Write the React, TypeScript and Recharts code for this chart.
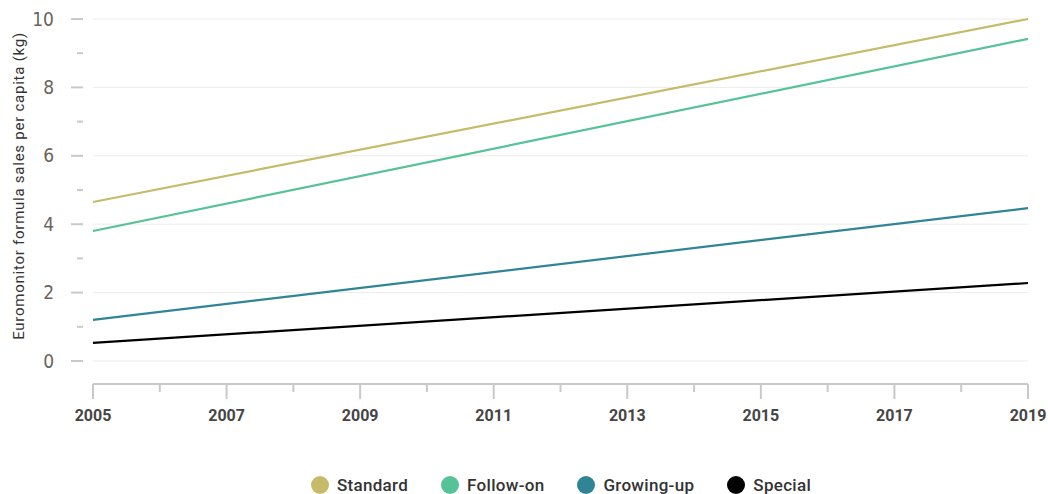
import React from "react";
import {
  LineChart,
  Line,
  XAxis,
  YAxis,
  CartesianGrid,
  Legend,
} from "recharts";

// trend endpoints (kg per capita)
const YEARS = [2005, 2019];
const STANDARD = [4.65, 10.0];
const FOLLOW_ON = [3.8, 9.42];
const GROWING_UP = [1.2, 4.47];
const SPECIAL = [0.53, 2.28];

const X_TICKS = [2005, 2006, 2007, 2008, 2009, 2010, 2011, 2012, 2013, 2014, 2015, 2016, 2017, 2018, 2019];
const Y_TICKS = [0, 1, 2, 3, 4, 5, 6, 7, 8, 9, 10];
const Y_GRID = [0, 2, 4, 6, 8, 10];

const SERIES = [
  { key: "standard", name: "Standard", color: "#c5bb69", values: STANDARD },
  { key: "followOn", name: "Follow-on", color: "#55c297", values: FOLLOW_ON },
  { key: "growingUp", name: "Growing-up", color: "#2f8596", values: GROWING_UP },
  { key: "special", name: "Special", color: "#000000", values: SPECIAL },
];

const data = YEARS.map((year, i) => {
  const row: any = { year };
  SERIES.forEach((s) => (row[s.key] = s.values[i]));
  return row;
});

const AXIS_GREY = "#c9c9c9";
const FONT = "Roboto, 'Liberation Sans', sans-serif";
const NARROW = "'Liberation Sans Narrow', 'DejaVu Sans Condensed', Roboto, sans-serif";

const XTick = ({ x, y, payload }: any) => {
  const major = payload.value % 2 === 1;
  return (
    <g>
      <line x1={x} x2={x} y1={y} y2={y + (major ? 15 : 8)} stroke={AXIS_GREY} strokeWidth={2} />
      {major && (
        <text x={x} y={y + 37} textAnchor="middle" fill="#454545" fontFamily={FONT} fontWeight={700} fontSize={16}>
          {payload.value}
        </text>
      )}
    </g>
  );
};

const YTick = ({ x, y, payload }: any) => {
  const major = payload.value % 2 === 0;
  return (
    <g>
      <line x1={x - (major ? 22 : 16)} x2={x - 10} y1={y} y2={y} stroke={AXIS_GREY} strokeWidth={2} />
      {major && (
        <text x={x - 39} y={y + 6.5} textAnchor="end" fill="#6a6460" fontFamily={NARROW} fontSize={19}>
          {payload.value}
        </text>
      )}
    </g>
  );
};

const YTitle = ({ viewBox }: any) => {
  const cx = viewBox.x + 19;
  const cy = 186;
  return (
    <text
      x={cx}
      y={cy}
      transform={`rotate(-90, ${cx}, ${cy})`}
      textAnchor="middle"
      dominantBaseline="central"
      fill="#333"
      fontFamily={FONT}
      fontSize={15}
      letterSpacing={0.75}
    >
      Euromonitor formula sales per capita (kg)
    </text>
  );
};

const LegendContent = () => (
  <div style={{ display: "flex", justifyContent: "center", alignItems: "center", gap: 33, height: 18, paddingLeft: 94 }}>
    {SERIES.map((s) => (
      <div key={s.key} style={{ display: "flex", alignItems: "center", gap: 8 }}>
        <span style={{ width: 18, height: 18, borderRadius: "50%", background: s.color, display: "inline-block" }} />
        <span style={{ fontFamily: FONT, fontSize: 17, fontWeight: 500, color: "#333", letterSpacing: 0.3 }}>{s.name}</span>
      </div>
    ))}
  </div>
);

export default function App() {
  return (
    <div style={{ position: "absolute", left: 0, top: 0, background: "#fff" }}>
      <LineChart width={1048} height={494} data={data} margin={{ top: 19, right: 20, left: 0, bottom: 0 }}>
        <CartesianGrid vertical={false} stroke="#ececec" horizontalValues={Y_GRID} />
        <XAxis
          dataKey="year"
          type="number"
          domain={[2005, 2019]}
          ticks={X_TICKS}
          interval={0}
          axisLine={{ stroke: AXIS_GREY, strokeWidth: 2 }}
          tickLine={false}
          tickSize={0}
          tickMargin={0}
          tick={<XTick />}
          height={92}
        />
        <YAxis
          type="number"
          domain={[0, 10]}
          ticks={Y_TICKS}
          interval={0}
          width={93}
          padding={{ top: 0, bottom: 23 }}
          axisLine={false}
          tickLine={false}
          tickSize={0}
          tickMargin={0}
          tick={<YTick />}
          label={<YTitle />}
        />
        <Legend verticalAlign="bottom" content={<LegendContent />} wrapperStyle={{ height: 18 }} />
        {SERIES.map((s) => (
          <Line
            key={s.key}
            type="linear"
            dataKey={s.key}
            name={s.name}
            stroke={s.color}
            strokeWidth={2.2}
            dot={false}
            activeDot={false}
            isAnimationActive={false}
          />
        ))}
      </LineChart>
    </div>
  );
}
